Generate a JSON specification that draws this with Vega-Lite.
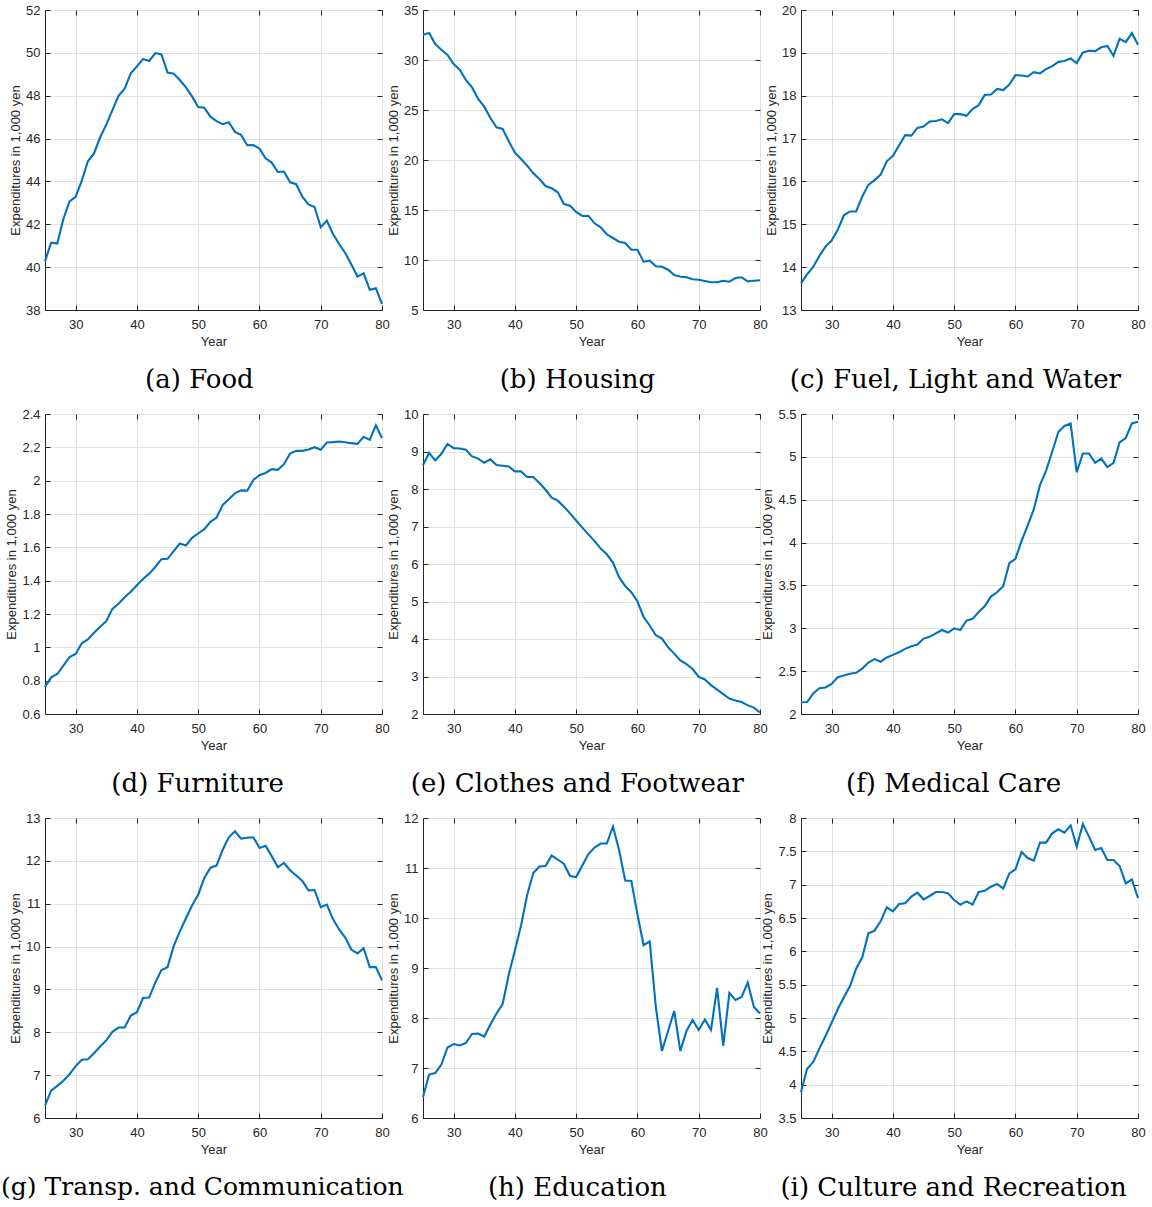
{
"$schema": "https://vega.github.io/schema/vega-lite/v6.json",
"background": "white",
"padding": {"left": 0, "top": 3, "right": 0, "bottom": 0},
"config": {
  "view": {"stroke": "#262626", "strokeWidth": 1},
  "axis": {"labelFont": "Liberation Sans", "labelFontSize": 13, "labelColor": "#262626", "titleFont": "Liberation Sans", "titleFontSize": 13, "titleColor": "#262626", "titleFontWeight": "normal", "domainColor": "#262626", "tickColor": "#262626", "gridColor": "#e2e2e2", "gridOpacity": 1, "tickSize": -5, "labelFlush": false, "labelOverlap": false, "format": "~r"},
  "axisX": {"labelPadding": 13, "titlePadding": 4},
  "axisY": {"labelPadding": 10, "titlePadding": 3},
  "title": {"font": "DejaVu Serif", "fontSize": 26, "fontWeight": "normal", "color": "#000000", "orient": "bottom", "anchor": "middle", "frame": "bounds", "offset": 19},
  "line": {"color": "#0072BD", "strokeWidth": 2.1}
},
"datasets": {"exp": [
{"panel":"a","year":25,"value":40.27},{"panel":"a","year":26,"value":41.14},{"panel":"a","year":27,"value":41.1},{"panel":"a","year":28,"value":42.25},{"panel":"a","year":29,"value":43.07},{"panel":"a","year":30,"value":43.28},{"panel":"a","year":31,"value":44.04},{"panel":"a","year":32,"value":44.94},{"panel":"a","year":33,"value":45.31},{"panel":"a","year":34,"value":46.06},{"panel":"a","year":35,"value":46.65},{"panel":"a","year":36,"value":47.33},{"panel":"a","year":37,"value":47.99},{"panel":"a","year":38,"value":48.33},{"panel":"a","year":39,"value":49.05},{"panel":"a","year":40,"value":49.37},{"panel":"a","year":41,"value":49.71},{"panel":"a","year":42,"value":49.62},{"panel":"a","year":43,"value":49.99},{"panel":"a","year":44,"value":49.93},{"panel":"a","year":45,"value":49.08},{"panel":"a","year":46,"value":49.03},{"panel":"a","year":47,"value":48.73},{"panel":"a","year":48,"value":48.39},{"panel":"a","year":49,"value":47.97},{"panel":"a","year":50,"value":47.47},{"panel":"a","year":51,"value":47.44},{"panel":"a","year":52,"value":47.02},{"panel":"a","year":53,"value":46.81},{"panel":"a","year":54,"value":46.67},{"panel":"a","year":55,"value":46.76},{"panel":"a","year":56,"value":46.31},{"panel":"a","year":57,"value":46.17},{"panel":"a","year":58,"value":45.69},{"panel":"a","year":59,"value":45.7},{"panel":"a","year":60,"value":45.53},{"panel":"a","year":61,"value":45.08},{"panel":"a","year":62,"value":44.88},{"panel":"a","year":63,"value":44.44},{"panel":"a","year":64,"value":44.46},{"panel":"a","year":65,"value":43.96},{"panel":"a","year":66,"value":43.87},{"panel":"a","year":67,"value":43.29},{"panel":"a","year":68,"value":42.93},{"panel":"a","year":69,"value":42.81},{"panel":"a","year":70,"value":41.86},{"panel":"a","year":71,"value":42.17},{"panel":"a","year":72,"value":41.55},{"panel":"a","year":73,"value":41.08},{"panel":"a","year":74,"value":40.66},{"panel":"a","year":75,"value":40.12},{"panel":"a","year":76,"value":39.56},{"panel":"a","year":77,"value":39.71},{"panel":"a","year":78,"value":38.94},{"panel":"a","year":79,"value":39.01},{"panel":"a","year":80,"value":38.28},
{"panel":"b","year":25,"value":32.53},{"panel":"b","year":26,"value":32.7},{"panel":"b","year":27,"value":31.6},{"panel":"b","year":28,"value":31.03},{"panel":"b","year":29,"value":30.5},{"panel":"b","year":30,"value":29.6},{"panel":"b","year":31,"value":29.03},{"panel":"b","year":32,"value":28.0},{"panel":"b","year":33,"value":27.27},{"panel":"b","year":34,"value":26.1},{"panel":"b","year":35,"value":25.33},{"panel":"b","year":36,"value":24.2},{"panel":"b","year":37,"value":23.27},{"panel":"b","year":38,"value":23.1},{"panel":"b","year":39,"value":21.87},{"panel":"b","year":40,"value":20.73},{"panel":"b","year":41,"value":20.1},{"panel":"b","year":42,"value":19.43},{"panel":"b","year":43,"value":18.67},{"panel":"b","year":44,"value":18.1},{"panel":"b","year":45,"value":17.4},{"panel":"b","year":46,"value":17.17},{"panel":"b","year":47,"value":16.77},{"panel":"b","year":48,"value":15.6},{"panel":"b","year":49,"value":15.43},{"panel":"b","year":50,"value":14.8},{"panel":"b","year":51,"value":14.4},{"panel":"b","year":52,"value":14.43},{"panel":"b","year":53,"value":13.67},{"panel":"b","year":54,"value":13.27},{"panel":"b","year":55,"value":12.57},{"panel":"b","year":56,"value":12.2},{"panel":"b","year":57,"value":11.83},{"panel":"b","year":58,"value":11.7},{"panel":"b","year":59,"value":11.03},{"panel":"b","year":60,"value":11.03},{"panel":"b","year":61,"value":9.83},{"panel":"b","year":62,"value":9.93},{"panel":"b","year":63,"value":9.37},{"panel":"b","year":64,"value":9.33},{"panel":"b","year":65,"value":9.03},{"panel":"b","year":66,"value":8.5},{"panel":"b","year":67,"value":8.33},{"panel":"b","year":68,"value":8.27},{"panel":"b","year":69,"value":8.07},{"panel":"b","year":70,"value":8.03},{"panel":"b","year":71,"value":7.9},{"panel":"b","year":72,"value":7.77},{"panel":"b","year":73,"value":7.77},{"panel":"b","year":74,"value":7.93},{"panel":"b","year":75,"value":7.83},{"panel":"b","year":76,"value":8.2},{"panel":"b","year":77,"value":8.27},{"panel":"b","year":78,"value":7.87},{"panel":"b","year":79,"value":7.93},{"panel":"b","year":80,"value":7.97},
{"panel":"c","year":25,"value":13.62},{"panel":"c","year":26,"value":13.83},{"panel":"c","year":27,"value":14.01},{"panel":"c","year":28,"value":14.26},{"panel":"c","year":29,"value":14.48},{"panel":"c","year":30,"value":14.62},{"panel":"c","year":31,"value":14.87},{"panel":"c","year":32,"value":15.21},{"panel":"c","year":33,"value":15.3},{"panel":"c","year":34,"value":15.3},{"panel":"c","year":35,"value":15.65},{"panel":"c","year":36,"value":15.92},{"panel":"c","year":37,"value":16.03},{"panel":"c","year":38,"value":16.16},{"panel":"c","year":39,"value":16.47},{"panel":"c","year":40,"value":16.6},{"panel":"c","year":41,"value":16.84},{"panel":"c","year":42,"value":17.08},{"panel":"c","year":43,"value":17.07},{"panel":"c","year":44,"value":17.25},{"panel":"c","year":45,"value":17.28},{"panel":"c","year":46,"value":17.4},{"panel":"c","year":47,"value":17.41},{"panel":"c","year":48,"value":17.45},{"panel":"c","year":49,"value":17.36},{"panel":"c","year":50,"value":17.57},{"panel":"c","year":51,"value":17.57},{"panel":"c","year":52,"value":17.53},{"panel":"c","year":53,"value":17.69},{"panel":"c","year":54,"value":17.78},{"panel":"c","year":55,"value":18.02},{"panel":"c","year":56,"value":18.03},{"panel":"c","year":57,"value":18.16},{"panel":"c","year":58,"value":18.13},{"panel":"c","year":59,"value":18.26},{"panel":"c","year":60,"value":18.48},{"panel":"c","year":61,"value":18.47},{"panel":"c","year":62,"value":18.45},{"panel":"c","year":63,"value":18.55},{"panel":"c","year":64,"value":18.52},{"panel":"c","year":65,"value":18.62},{"panel":"c","year":66,"value":18.69},{"panel":"c","year":67,"value":18.79},{"panel":"c","year":68,"value":18.81},{"panel":"c","year":69,"value":18.87},{"panel":"c","year":70,"value":18.76},{"panel":"c","year":71,"value":19.01},{"panel":"c","year":72,"value":19.05},{"panel":"c","year":73,"value":19.04},{"panel":"c","year":74,"value":19.13},{"panel":"c","year":75,"value":19.16},{"panel":"c","year":76,"value":18.93},{"panel":"c","year":77,"value":19.33},{"panel":"c","year":78,"value":19.25},{"panel":"c","year":79,"value":19.46},{"panel":"c","year":80,"value":19.19},
{"panel":"d","year":25,"value":0.763},{"panel":"d","year":26,"value":0.82},{"panel":"d","year":27,"value":0.84},{"panel":"d","year":28,"value":0.89},{"panel":"d","year":29,"value":0.942},{"panel":"d","year":30,"value":0.96},{"panel":"d","year":31,"value":1.024},{"panel":"d","year":32,"value":1.047},{"panel":"d","year":33,"value":1.087},{"panel":"d","year":34,"value":1.123},{"panel":"d","year":35,"value":1.157},{"panel":"d","year":36,"value":1.231},{"panel":"d","year":37,"value":1.261},{"panel":"d","year":38,"value":1.3},{"panel":"d","year":39,"value":1.334},{"panel":"d","year":40,"value":1.372},{"panel":"d","year":41,"value":1.41},{"panel":"d","year":42,"value":1.442},{"panel":"d","year":43,"value":1.482},{"panel":"d","year":44,"value":1.529},{"panel":"d","year":45,"value":1.531},{"panel":"d","year":46,"value":1.577},{"panel":"d","year":47,"value":1.623},{"panel":"d","year":48,"value":1.611},{"panel":"d","year":49,"value":1.657},{"panel":"d","year":50,"value":1.683},{"panel":"d","year":51,"value":1.709},{"panel":"d","year":52,"value":1.753},{"panel":"d","year":53,"value":1.779},{"panel":"d","year":54,"value":1.854},{"panel":"d","year":55,"value":1.888},{"panel":"d","year":56,"value":1.924},{"panel":"d","year":57,"value":1.942},{"panel":"d","year":58,"value":1.94},{"panel":"d","year":59,"value":2.004},{"panel":"d","year":60,"value":2.033},{"panel":"d","year":61,"value":2.046},{"panel":"d","year":62,"value":2.069},{"panel":"d","year":63,"value":2.065},{"panel":"d","year":64,"value":2.099},{"panel":"d","year":65,"value":2.163},{"panel":"d","year":66,"value":2.179},{"panel":"d","year":67,"value":2.179},{"panel":"d","year":68,"value":2.187},{"panel":"d","year":69,"value":2.201},{"panel":"d","year":70,"value":2.185},{"panel":"d","year":71,"value":2.229},{"panel":"d","year":72,"value":2.231},{"panel":"d","year":73,"value":2.235},{"panel":"d","year":74,"value":2.231},{"panel":"d","year":75,"value":2.225},{"panel":"d","year":76,"value":2.221},{"panel":"d","year":77,"value":2.263},{"panel":"d","year":78,"value":2.245},{"panel":"d","year":79,"value":2.332},{"panel":"d","year":80,"value":2.255},
{"panel":"e","year":25,"value":8.64},{"panel":"e","year":26,"value":8.96},{"panel":"e","year":27,"value":8.76},{"panel":"e","year":28,"value":8.94},{"panel":"e","year":29,"value":9.2},{"panel":"e","year":30,"value":9.09},{"panel":"e","year":31,"value":9.08},{"panel":"e","year":32,"value":9.05},{"panel":"e","year":33,"value":8.87},{"panel":"e","year":34,"value":8.81},{"panel":"e","year":35,"value":8.7},{"panel":"e","year":36,"value":8.79},{"panel":"e","year":37,"value":8.64},{"panel":"e","year":38,"value":8.62},{"panel":"e","year":39,"value":8.6},{"panel":"e","year":40,"value":8.47},{"panel":"e","year":41,"value":8.47},{"panel":"e","year":42,"value":8.32},{"panel":"e","year":43,"value":8.32},{"panel":"e","year":44,"value":8.16},{"panel":"e","year":45,"value":7.98},{"panel":"e","year":46,"value":7.77},{"panel":"e","year":47,"value":7.69},{"panel":"e","year":48,"value":7.53},{"panel":"e","year":49,"value":7.35},{"panel":"e","year":50,"value":7.16},{"panel":"e","year":51,"value":6.97},{"panel":"e","year":52,"value":6.79},{"panel":"e","year":53,"value":6.61},{"panel":"e","year":54,"value":6.41},{"panel":"e","year":55,"value":6.26},{"panel":"e","year":56,"value":6.04},{"panel":"e","year":57,"value":5.65},{"panel":"e","year":58,"value":5.41},{"panel":"e","year":59,"value":5.25},{"panel":"e","year":60,"value":5.0},{"panel":"e","year":61,"value":4.59},{"panel":"e","year":62,"value":4.36},{"panel":"e","year":63,"value":4.1},{"panel":"e","year":64,"value":4.01},{"panel":"e","year":65,"value":3.78},{"panel":"e","year":66,"value":3.61},{"panel":"e","year":67,"value":3.43},{"panel":"e","year":68,"value":3.33},{"panel":"e","year":69,"value":3.2},{"panel":"e","year":70,"value":2.99},{"panel":"e","year":71,"value":2.92},{"panel":"e","year":72,"value":2.77},{"panel":"e","year":73,"value":2.65},{"panel":"e","year":74,"value":2.53},{"panel":"e","year":75,"value":2.41},{"panel":"e","year":76,"value":2.36},{"panel":"e","year":77,"value":2.32},{"panel":"e","year":78,"value":2.23},{"panel":"e","year":79,"value":2.17},{"panel":"e","year":80,"value":2.04},
{"panel":"f","year":25,"value":2.137},{"panel":"f","year":26,"value":2.14},{"panel":"f","year":27,"value":2.24},{"panel":"f","year":28,"value":2.3},{"panel":"f","year":29,"value":2.31},{"panel":"f","year":30,"value":2.35},{"panel":"f","year":31,"value":2.43},{"panel":"f","year":32,"value":2.45},{"panel":"f","year":33,"value":2.47},{"panel":"f","year":34,"value":2.48},{"panel":"f","year":35,"value":2.53},{"panel":"f","year":36,"value":2.6},{"panel":"f","year":37,"value":2.64},{"panel":"f","year":38,"value":2.61},{"panel":"f","year":39,"value":2.66},{"panel":"f","year":40,"value":2.69},{"panel":"f","year":41,"value":2.72},{"panel":"f","year":42,"value":2.76},{"panel":"f","year":43,"value":2.79},{"panel":"f","year":44,"value":2.81},{"panel":"f","year":45,"value":2.88},{"panel":"f","year":46,"value":2.9},{"panel":"f","year":47,"value":2.94},{"panel":"f","year":48,"value":2.98},{"panel":"f","year":49,"value":2.95},{"panel":"f","year":50,"value":3.0},{"panel":"f","year":51,"value":2.98},{"panel":"f","year":52,"value":3.09},{"panel":"f","year":53,"value":3.11},{"panel":"f","year":54,"value":3.19},{"panel":"f","year":55,"value":3.26},{"panel":"f","year":56,"value":3.37},{"panel":"f","year":57,"value":3.42},{"panel":"f","year":58,"value":3.49},{"panel":"f","year":59,"value":3.76},{"panel":"f","year":60,"value":3.81},{"panel":"f","year":61,"value":4.02},{"panel":"f","year":62,"value":4.2},{"panel":"f","year":63,"value":4.39},{"panel":"f","year":64,"value":4.67},{"panel":"f","year":65,"value":4.84},{"panel":"f","year":66,"value":5.06},{"panel":"f","year":67,"value":5.29},{"panel":"f","year":68,"value":5.36},{"panel":"f","year":69,"value":5.39},{"panel":"f","year":70,"value":4.82},{"panel":"f","year":71,"value":5.04},{"panel":"f","year":72,"value":5.04},{"panel":"f","year":73,"value":4.93},{"panel":"f","year":74,"value":4.98},{"panel":"f","year":75,"value":4.88},{"panel":"f","year":76,"value":4.93},{"panel":"f","year":77,"value":5.17},{"panel":"f","year":78,"value":5.22},{"panel":"f","year":79,"value":5.39},{"panel":"f","year":80,"value":5.41},
{"panel":"g","year":25,"value":6.29},{"panel":"g","year":26,"value":6.64},{"panel":"g","year":27,"value":6.75},{"panel":"g","year":28,"value":6.87},{"panel":"g","year":29,"value":7.02},{"panel":"g","year":30,"value":7.21},{"panel":"g","year":31,"value":7.36},{"panel":"g","year":32,"value":7.37},{"panel":"g","year":33,"value":7.51},{"panel":"g","year":34,"value":7.67},{"panel":"g","year":35,"value":7.81},{"panel":"g","year":36,"value":8.01},{"panel":"g","year":37,"value":8.11},{"panel":"g","year":38,"value":8.11},{"panel":"g","year":39,"value":8.39},{"panel":"g","year":40,"value":8.47},{"panel":"g","year":41,"value":8.8},{"panel":"g","year":42,"value":8.81},{"panel":"g","year":43,"value":9.16},{"panel":"g","year":44,"value":9.45},{"panel":"g","year":45,"value":9.52},{"panel":"g","year":46,"value":10.01},{"panel":"g","year":47,"value":10.35},{"panel":"g","year":48,"value":10.66},{"panel":"g","year":49,"value":10.96},{"panel":"g","year":50,"value":11.21},{"panel":"g","year":51,"value":11.6},{"panel":"g","year":52,"value":11.84},{"panel":"g","year":53,"value":11.89},{"panel":"g","year":54,"value":12.26},{"panel":"g","year":55,"value":12.55},{"panel":"g","year":56,"value":12.69},{"panel":"g","year":57,"value":12.52},{"panel":"g","year":58,"value":12.54},{"panel":"g","year":59,"value":12.55},{"panel":"g","year":60,"value":12.3},{"panel":"g","year":61,"value":12.35},{"panel":"g","year":62,"value":12.11},{"panel":"g","year":63,"value":11.85},{"panel":"g","year":64,"value":11.95},{"panel":"g","year":65,"value":11.78},{"panel":"g","year":66,"value":11.66},{"panel":"g","year":67,"value":11.53},{"panel":"g","year":68,"value":11.31},{"panel":"g","year":69,"value":11.32},{"panel":"g","year":70,"value":10.92},{"panel":"g","year":71,"value":10.98},{"panel":"g","year":72,"value":10.64},{"panel":"g","year":73,"value":10.4},{"panel":"g","year":74,"value":10.21},{"panel":"g","year":75,"value":9.93},{"panel":"g","year":76,"value":9.84},{"panel":"g","year":77,"value":9.96},{"panel":"g","year":78,"value":9.52},{"panel":"g","year":79,"value":9.52},{"panel":"g","year":80,"value":9.21},
{"panel":"h","year":25,"value":6.42},{"panel":"h","year":26,"value":6.87},{"panel":"h","year":27,"value":6.9},{"panel":"h","year":28,"value":7.07},{"panel":"h","year":29,"value":7.41},{"panel":"h","year":30,"value":7.48},{"panel":"h","year":31,"value":7.45},{"panel":"h","year":32,"value":7.5},{"panel":"h","year":33,"value":7.68},{"panel":"h","year":34,"value":7.69},{"panel":"h","year":35,"value":7.63},{"panel":"h","year":36,"value":7.87},{"panel":"h","year":37,"value":8.09},{"panel":"h","year":38,"value":8.28},{"panel":"h","year":39,"value":8.87},{"panel":"h","year":40,"value":9.35},{"panel":"h","year":41,"value":9.85},{"panel":"h","year":42,"value":10.46},{"panel":"h","year":43,"value":10.9},{"panel":"h","year":44,"value":11.03},{"panel":"h","year":45,"value":11.04},{"panel":"h","year":46,"value":11.25},{"panel":"h","year":47,"value":11.17},{"panel":"h","year":48,"value":11.08},{"panel":"h","year":49,"value":10.84},{"panel":"h","year":50,"value":10.82},{"panel":"h","year":51,"value":11.05},{"panel":"h","year":52,"value":11.28},{"panel":"h","year":53,"value":11.41},{"panel":"h","year":54,"value":11.49},{"panel":"h","year":55,"value":11.49},{"panel":"h","year":56,"value":11.83},{"panel":"h","year":57,"value":11.36},{"panel":"h","year":58,"value":10.75},{"panel":"h","year":59,"value":10.74},{"panel":"h","year":60,"value":10.07},{"panel":"h","year":61,"value":9.46},{"panel":"h","year":62,"value":9.53},{"panel":"h","year":63,"value":8.22},{"panel":"h","year":64,"value":7.34},{"panel":"h","year":65,"value":7.74},{"panel":"h","year":66,"value":8.14},{"panel":"h","year":67,"value":7.34},{"panel":"h","year":68,"value":7.74},{"panel":"h","year":69,"value":7.96},{"panel":"h","year":70,"value":7.76},{"panel":"h","year":71,"value":7.97},{"panel":"h","year":72,"value":7.76},{"panel":"h","year":73,"value":8.6},{"panel":"h","year":74,"value":7.44},{"panel":"h","year":75,"value":8.5},{"panel":"h","year":76,"value":8.36},{"panel":"h","year":77,"value":8.42},{"panel":"h","year":78,"value":8.71},{"panel":"h","year":79,"value":8.22},{"panel":"h","year":80,"value":8.09},
{"panel":"i","year":25,"value":3.89},{"panel":"i","year":26,"value":4.24},{"panel":"i","year":27,"value":4.34},{"panel":"i","year":28,"value":4.54},{"panel":"i","year":29,"value":4.73},{"panel":"i","year":30,"value":4.93},{"panel":"i","year":31,"value":5.13},{"panel":"i","year":32,"value":5.31},{"panel":"i","year":33,"value":5.48},{"panel":"i","year":34,"value":5.74},{"panel":"i","year":35,"value":5.91},{"panel":"i","year":36,"value":6.27},{"panel":"i","year":37,"value":6.31},{"panel":"i","year":38,"value":6.45},{"panel":"i","year":39,"value":6.66},{"panel":"i","year":40,"value":6.6},{"panel":"i","year":41,"value":6.71},{"panel":"i","year":42,"value":6.72},{"panel":"i","year":43,"value":6.82},{"panel":"i","year":44,"value":6.88},{"panel":"i","year":45,"value":6.78},{"panel":"i","year":46,"value":6.83},{"panel":"i","year":47,"value":6.89},{"panel":"i","year":48,"value":6.89},{"panel":"i","year":49,"value":6.87},{"panel":"i","year":50,"value":6.77},{"panel":"i","year":51,"value":6.7},{"panel":"i","year":52,"value":6.75},{"panel":"i","year":53,"value":6.7},{"panel":"i","year":54,"value":6.89},{"panel":"i","year":55,"value":6.91},{"panel":"i","year":56,"value":6.97},{"panel":"i","year":57,"value":7.01},{"panel":"i","year":58,"value":6.94},{"panel":"i","year":59,"value":7.17},{"panel":"i","year":60,"value":7.23},{"panel":"i","year":61,"value":7.49},{"panel":"i","year":62,"value":7.4},{"panel":"i","year":63,"value":7.36},{"panel":"i","year":64,"value":7.63},{"panel":"i","year":65,"value":7.63},{"panel":"i","year":66,"value":7.77},{"panel":"i","year":67,"value":7.83},{"panel":"i","year":68,"value":7.78},{"panel":"i","year":69,"value":7.89},{"panel":"i","year":70,"value":7.57},{"panel":"i","year":71,"value":7.91},{"panel":"i","year":72,"value":7.72},{"panel":"i","year":73,"value":7.52},{"panel":"i","year":74,"value":7.55},{"panel":"i","year":75,"value":7.37},{"panel":"i","year":76,"value":7.37},{"panel":"i","year":77,"value":7.28},{"panel":"i","year":78,"value":7.02},{"panel":"i","year":79,"value":7.08},{"panel":"i","year":80,"value":6.8}
]},
"columns": 3,
"spacing": {"row": 104, "column": 41},
"bounds": "flush",
"concat": [
{"width": 337, "height": 300, "title": "(a) Food", "data": {"name": "exp"}, "transform": [{"filter": "datum.panel === 'a'"}],
 "layer": [
  {"mark": "line", "encoding": {"x": {"field": "year", "type": "quantitative", "scale": {"domain": [25, 80], "nice": false}, "axis": {"title": "Year", "values": [30,40,50,60,70,80]}}, "y": {"field": "value", "type": "quantitative", "scale": {"domain": [38, 52], "nice": false, "zero": false}, "axis": {"title": "Expenditures in 1,000 yen", "values": [38,40,42,44,46,48,50,52]}}}},
  {"mark": {"type": "line", "opacity": 0}, "encoding": {"x": {"field": "year", "type": "quantitative", "axis": {"orient": "top", "labels": false, "title": null, "grid": false, "domain": false, "values": [30,40,50,60,70,80]}}, "y": {"field": "value", "type": "quantitative", "axis": {"orient": "right", "labels": false, "title": null, "grid": false, "domain": false, "values": [38,40,42,44,46,48,50,52]}}}}
 ], "resolve": {"axis": {"x": "independent", "y": "independent"}}},
{"width": 337, "height": 300, "title": "(b) Housing", "data": {"name": "exp"}, "transform": [{"filter": "datum.panel === 'b'"}],
 "layer": [
  {"mark": "line", "encoding": {"x": {"field": "year", "type": "quantitative", "scale": {"domain": [25, 80], "nice": false}, "axis": {"title": "Year", "values": [30,40,50,60,70,80]}}, "y": {"field": "value", "type": "quantitative", "scale": {"domain": [5, 35], "nice": false, "zero": false}, "axis": {"title": "Expenditures in 1,000 yen", "values": [5,10,15,20,25,30,35]}}}},
  {"mark": {"type": "line", "opacity": 0}, "encoding": {"x": {"field": "year", "type": "quantitative", "axis": {"orient": "top", "labels": false, "title": null, "grid": false, "domain": false, "values": [30,40,50,60,70,80]}}, "y": {"field": "value", "type": "quantitative", "axis": {"orient": "right", "labels": false, "title": null, "grid": false, "domain": false, "values": [5,10,15,20,25,30,35]}}}}
 ], "resolve": {"axis": {"x": "independent", "y": "independent"}}},
{"width": 337, "height": 300, "title": "(c) Fuel, Light and Water", "data": {"name": "exp"}, "transform": [{"filter": "datum.panel === 'c'"}],
 "layer": [
  {"mark": "line", "encoding": {"x": {"field": "year", "type": "quantitative", "scale": {"domain": [25, 80], "nice": false}, "axis": {"title": "Year", "values": [30,40,50,60,70,80]}}, "y": {"field": "value", "type": "quantitative", "scale": {"domain": [13, 20], "nice": false, "zero": false}, "axis": {"title": "Expenditures in 1,000 yen", "values": [13,14,15,16,17,18,19,20]}}}},
  {"mark": {"type": "line", "opacity": 0}, "encoding": {"x": {"field": "year", "type": "quantitative", "axis": {"orient": "top", "labels": false, "title": null, "grid": false, "domain": false, "values": [30,40,50,60,70,80]}}, "y": {"field": "value", "type": "quantitative", "axis": {"orient": "right", "labels": false, "title": null, "grid": false, "domain": false, "values": [13,14,15,16,17,18,19,20]}}}}
 ], "resolve": {"axis": {"x": "independent", "y": "independent"}}},
{"width": 337, "height": 300, "title": "(d) Furniture", "data": {"name": "exp"}, "transform": [{"filter": "datum.panel === 'd'"}],
 "layer": [
  {"mark": "line", "encoding": {"x": {"field": "year", "type": "quantitative", "scale": {"domain": [25, 80], "nice": false}, "axis": {"title": "Year", "values": [30,40,50,60,70,80]}}, "y": {"field": "value", "type": "quantitative", "scale": {"domain": [0.6, 2.4], "nice": false, "zero": false}, "axis": {"title": "Expenditures in 1,000 yen", "values": [0.6,0.8,1,1.2,1.4,1.6,1.8,2,2.2,2.4]}}}},
  {"mark": {"type": "line", "opacity": 0}, "encoding": {"x": {"field": "year", "type": "quantitative", "axis": {"orient": "top", "labels": false, "title": null, "grid": false, "domain": false, "values": [30,40,50,60,70,80]}}, "y": {"field": "value", "type": "quantitative", "axis": {"orient": "right", "labels": false, "title": null, "grid": false, "domain": false, "values": [0.6,0.8,1,1.2,1.4,1.6,1.8,2,2.2,2.4]}}}}
 ], "resolve": {"axis": {"x": "independent", "y": "independent"}}},
{"width": 337, "height": 300, "title": "(e) Clothes and Footwear", "data": {"name": "exp"}, "transform": [{"filter": "datum.panel === 'e'"}],
 "layer": [
  {"mark": "line", "encoding": {"x": {"field": "year", "type": "quantitative", "scale": {"domain": [25, 80], "nice": false}, "axis": {"title": "Year", "values": [30,40,50,60,70,80]}}, "y": {"field": "value", "type": "quantitative", "scale": {"domain": [2, 10], "nice": false, "zero": false}, "axis": {"title": "Expenditures in 1,000 yen", "values": [2,3,4,5,6,7,8,9,10]}}}},
  {"mark": {"type": "line", "opacity": 0}, "encoding": {"x": {"field": "year", "type": "quantitative", "axis": {"orient": "top", "labels": false, "title": null, "grid": false, "domain": false, "values": [30,40,50,60,70,80]}}, "y": {"field": "value", "type": "quantitative", "axis": {"orient": "right", "labels": false, "title": null, "grid": false, "domain": false, "values": [2,3,4,5,6,7,8,9,10]}}}}
 ], "resolve": {"axis": {"x": "independent", "y": "independent"}}},
{"width": 337, "height": 300, "title": "(f) Medical Care", "data": {"name": "exp"}, "transform": [{"filter": "datum.panel === 'f'"}],
 "layer": [
  {"mark": "line", "encoding": {"x": {"field": "year", "type": "quantitative", "scale": {"domain": [25, 80], "nice": false}, "axis": {"title": "Year", "values": [30,40,50,60,70,80]}}, "y": {"field": "value", "type": "quantitative", "scale": {"domain": [2, 5.5], "nice": false, "zero": false}, "axis": {"title": "Expenditures in 1,000 yen", "values": [2,2.5,3,3.5,4,4.5,5,5.5]}}}},
  {"mark": {"type": "line", "opacity": 0}, "encoding": {"x": {"field": "year", "type": "quantitative", "axis": {"orient": "top", "labels": false, "title": null, "grid": false, "domain": false, "values": [30,40,50,60,70,80]}}, "y": {"field": "value", "type": "quantitative", "axis": {"orient": "right", "labels": false, "title": null, "grid": false, "domain": false, "values": [2,2.5,3,3.5,4,4.5,5,5.5]}}}}
 ], "resolve": {"axis": {"x": "independent", "y": "independent"}}},
{"width": 337, "height": 300, "title": {"text": "(g) Transp. and Communication", "fontSize": 25, "dx": 3}, "data": {"name": "exp"}, "transform": [{"filter": "datum.panel === 'g'"}],
 "layer": [
  {"mark": "line", "encoding": {"x": {"field": "year", "type": "quantitative", "scale": {"domain": [25, 80], "nice": false}, "axis": {"title": "Year", "values": [30,40,50,60,70,80]}}, "y": {"field": "value", "type": "quantitative", "scale": {"domain": [6, 13], "nice": false, "zero": false}, "axis": {"title": "Expenditures in 1,000 yen", "values": [6,7,8,9,10,11,12,13]}}}},
  {"mark": {"type": "line", "opacity": 0}, "encoding": {"x": {"field": "year", "type": "quantitative", "axis": {"orient": "top", "labels": false, "title": null, "grid": false, "domain": false, "values": [30,40,50,60,70,80]}}, "y": {"field": "value", "type": "quantitative", "axis": {"orient": "right", "labels": false, "title": null, "grid": false, "domain": false, "values": [6,7,8,9,10,11,12,13]}}}}
 ], "resolve": {"axis": {"x": "independent", "y": "independent"}}},
{"width": 337, "height": 300, "title": "(h) Education", "data": {"name": "exp"}, "transform": [{"filter": "datum.panel === 'h'"}],
 "layer": [
  {"mark": "line", "encoding": {"x": {"field": "year", "type": "quantitative", "scale": {"domain": [25, 80], "nice": false}, "axis": {"title": "Year", "values": [30,40,50,60,70,80]}}, "y": {"field": "value", "type": "quantitative", "scale": {"domain": [6, 12], "nice": false, "zero": false}, "axis": {"title": "Expenditures in 1,000 yen", "values": [6,7,8,9,10,11,12]}}}},
  {"mark": {"type": "line", "opacity": 0}, "encoding": {"x": {"field": "year", "type": "quantitative", "axis": {"orient": "top", "labels": false, "title": null, "grid": false, "domain": false, "values": [30,40,50,60,70,80]}}, "y": {"field": "value", "type": "quantitative", "axis": {"orient": "right", "labels": false, "title": null, "grid": false, "domain": false, "values": [6,7,8,9,10,11,12]}}}}
 ], "resolve": {"axis": {"x": "independent", "y": "independent"}}},
{"width": 337, "height": 300, "title": "(i) Culture and Recreation", "data": {"name": "exp"}, "transform": [{"filter": "datum.panel === 'i'"}],
 "layer": [
  {"mark": "line", "encoding": {"x": {"field": "year", "type": "quantitative", "scale": {"domain": [25, 80], "nice": false}, "axis": {"title": "Year", "values": [30,40,50,60,70,80]}}, "y": {"field": "value", "type": "quantitative", "scale": {"domain": [3.5, 8], "nice": false, "zero": false}, "axis": {"title": "Expenditures in 1,000 yen", "values": [3.5,4,4.5,5,5.5,6,6.5,7,7.5,8]}}}},
  {"mark": {"type": "line", "opacity": 0}, "encoding": {"x": {"field": "year", "type": "quantitative", "axis": {"orient": "top", "labels": false, "title": null, "grid": false, "domain": false, "values": [30,40,50,60,70,80]}}, "y": {"field": "value", "type": "quantitative", "axis": {"orient": "right", "labels": false, "title": null, "grid": false, "domain": false, "values": [3.5,4,4.5,5,5.5,6,6.5,7,7.5,8]}}}}
 ], "resolve": {"axis": {"x": "independent", "y": "independent"}}}
]
}
